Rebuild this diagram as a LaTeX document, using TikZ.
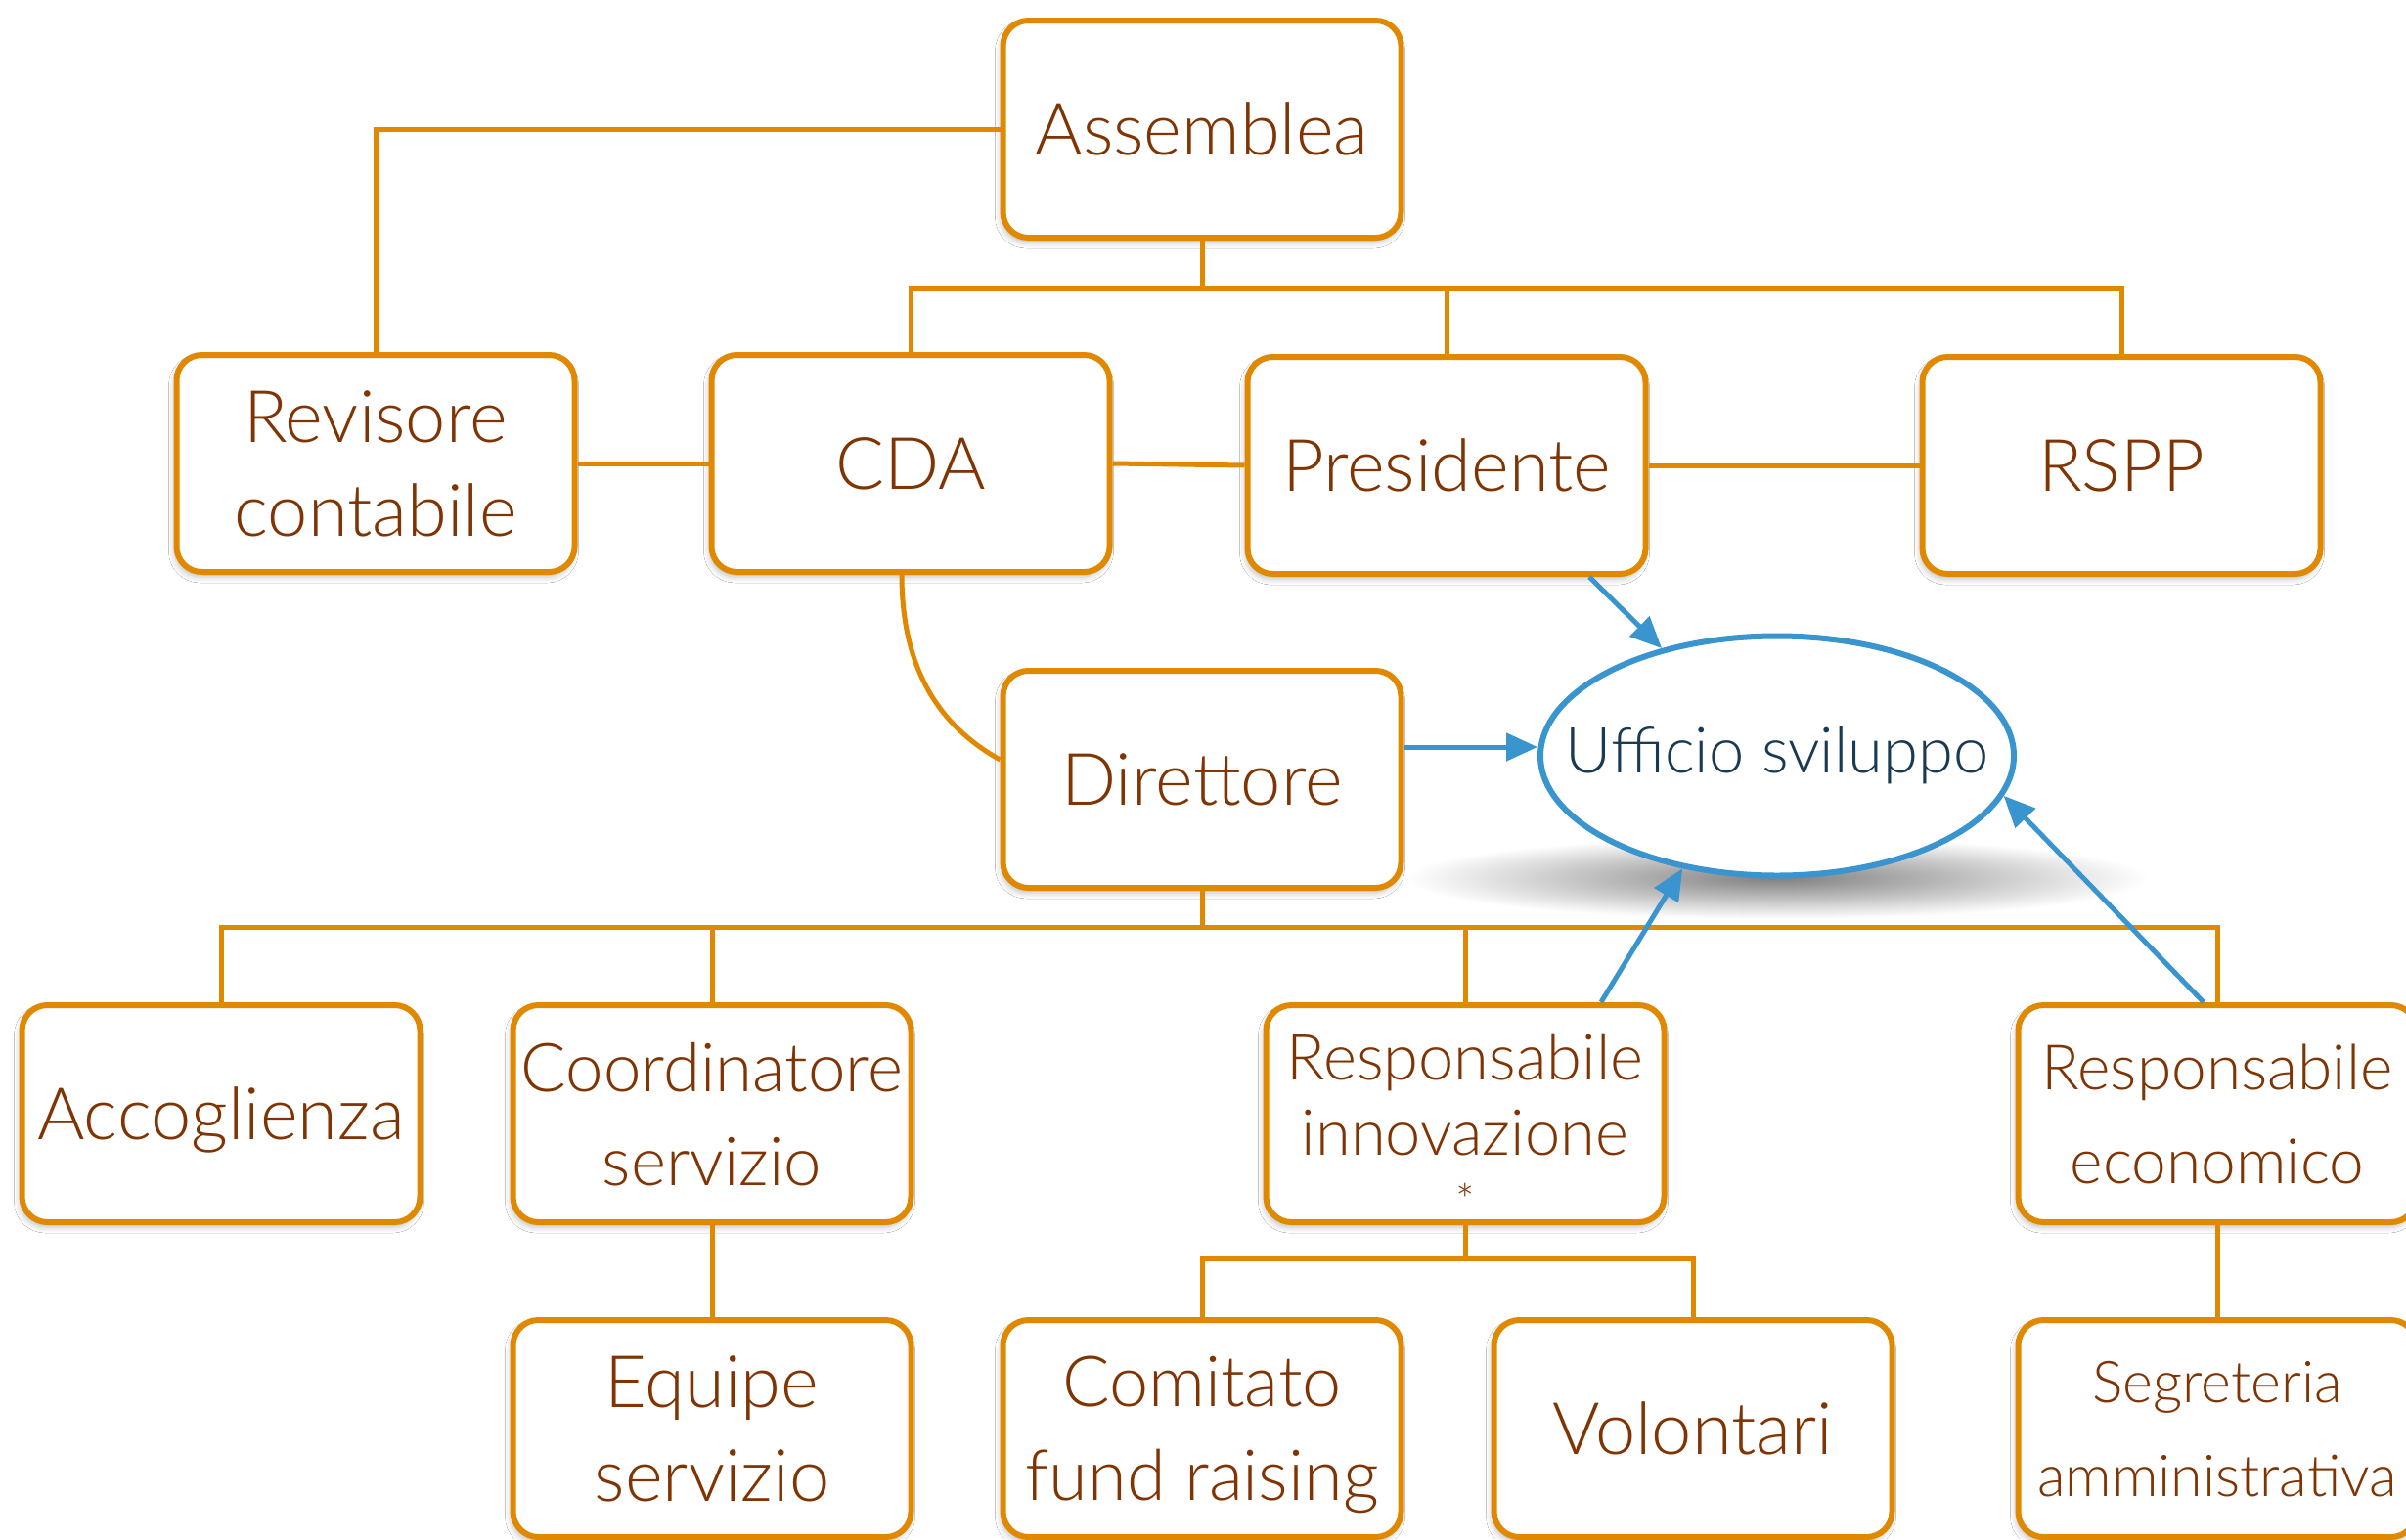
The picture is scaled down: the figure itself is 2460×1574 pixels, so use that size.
\documentclass[tikz,border=0pt]{standalone}
\usepackage{fontspec}
\setmainfont{Lato Light}
\usetikzlibrary{arrows.meta,shapes.geometric,shadows.blur}
\definecolor{org}{RGB}{224,137,0}
\definecolor{brn}{RGB}{128,52,4}
\definecolor{blu}{RGB}{58,148,206}
\definecolor{dblu}{RGB}{24,58,84}
\tikzset{
  conn/.style={draw=org, line width=5pt},
  arr/.style={draw=blu, line width=5pt, -{Triangle[length=32pt,width=28pt]}},
  box/.style={draw=org, line width=6pt, rounded corners=26pt, fill=white,
     minimum width=407pt, minimum height=222pt, inner sep=0pt, text=brn,
     align=center, text depth=0pt, font=\fontsize{74}{96}\selectfont,
     blur shadow={shadow xshift=-2pt, shadow yshift=-5pt, shadow blur radius=6pt, shadow opacity=25}},
  oval/.style={draw=blu, line width=6pt, ellipse, minimum width=484pt, minimum height=245pt,
     inner sep=0pt, fill=white, text=dblu, font=\fontsize{65}{78}\selectfont}
}
\begin{document}
\begin{tikzpicture}[x=1pt,y=-1pt]
\useasboundingbox (0,0) rectangle (2460,1574);
\clip (0,0) rectangle (2460,1574);
\fill[white] (0,0) rectangle (2460,1574);
% shadow under the ellipse
\shade[inner color=black!50, outer color=white] (1817,898) ellipse [x radius=380, y radius=42];
% boxes
\node[box] (ass) at (1229,132) {Assemblea};
\node[box] (rev) at (384,474) {Revisore\\contabile};
\node[box] (cda) at (931,474) {CDA};
\node[box] (pres) at (1479,476) {Presidente};
\node[box] (rspp) at (2169,476) {RSPP};
\node[box] (dir) at (1229,797) {Direttore};
\node[box] (acc) at (226,1139) {Accoglienza};
\node[box, font=\fontsize{69}{96}\selectfont] (coord) at (728,1139) {Coordinatore\\servizio};
\node[box, font=\fontsize{65}{77}\selectfont, text depth=-24pt] (rinn) at (1498,1139) {Responsabile\\innovazione\\[-38pt]\raisebox{-24pt}{\fontsize{46}{46}\selectfont *}};
\node[box, font=\fontsize{64}{96}\selectfont] (reco) at (2267,1139) {Responsabile\\economico};
\node[box] (equ) at (728,1461) {Equipe\\servizio};
\node[box, font=\fontsize{72}{96}\selectfont] (com) at (1229,1461) {Comitato\\fund raising};
\node[box] (vol) at (1731,1461) {Volontari};
\node[box, font=\fontsize{59}{96}\selectfont] (seg) at (2267,1461) {Segreteria\\amministrativa};
\node[oval] (uff) at (1817,773) {\makebox[0pt]{Ufficio sviluppo}};
% orange connectors
\coordinate (b1) at (1229,295);
\draw[conn] (ass.west) -| (rev.north);
\draw[conn] (ass.south) -- (b1);
\draw[conn] (cda.north) |- (rspp.north |- b1) -- (rspp.north);
\draw[conn] (pres.north) -- (pres.north |- b1);
\draw[conn] (rev.east) -- (cda.west);
\draw[conn] (cda.east) -- (pres.west);
\draw[conn] (pres.east) -- (rspp.west);
\draw[conn] ([xshift=-9pt]cda.south) .. controls +(0,110) and +(-50,-28) .. ([yshift=20pt]dir.west);
\coordinate (b2) at (1229,948);
\draw[conn] (dir.south) -- (b2);
\draw[conn] (acc.north) |- (reco.north |- b2) -- (reco.north);
\draw[conn] (coord.north) -- (coord.north |- b2);
\draw[conn] (rinn.north) -- (rinn.north |- b2);
\draw[conn] (coord.south) -- (equ.north);
\coordinate (b3) at (1498,1287);
\draw[conn] (rinn.south) -- (b3);
\draw[conn] (com.north) |- (vol.north |- b3) -- (vol.north);
\draw[conn] (reco.south) -- (seg.north);
% blue arrows
\draw[arr] ([xshift=146pt]pres.south) -- (uff.137);
\draw[arr] ([yshift=33pt]dir.east) -- ([yshift=9pt]uff.west);
\draw[arr] ([xshift=139pt]rinn.north) -- (uff.230);
\draw[arr] ([xshift=-14pt]reco.north) -- (uff.-10.5);
\end{tikzpicture}
\end{document}
